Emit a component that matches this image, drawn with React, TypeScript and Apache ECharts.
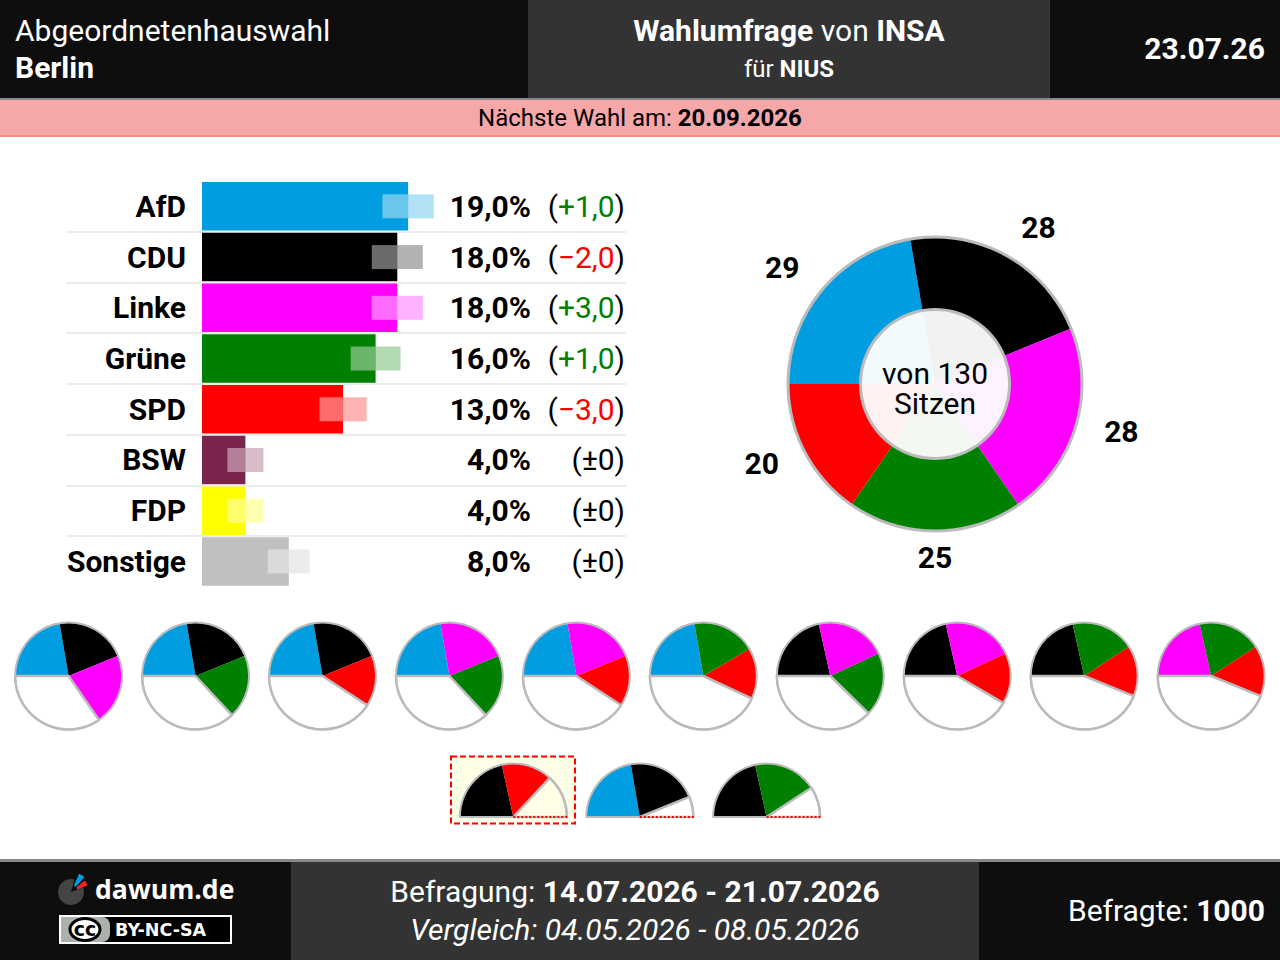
import React, { useEffect, useRef } from "react";
import * as echarts from "echarts";

const categories = ["AfD", "CDU", "Linke", "Grüne", "SPD", "BSW", "FDP", "Sonstige"];
const values = [19, 18, 18, 16, 13, 4, 4, 8];
const valueLabels = ["19,0%", "18,0%", "18,0%", "16,0%", "13,0%", "4,0%", "4,0%", "8,0%"];
const changeLabels = ["+1,0", "−2,0", "+3,0", "+1,0", "−3,0", "±0", "±0", "±0"];
const errorMargins = [2.37, 2.35, 2.35, 2.3, 2.17, 1.66, 1.66, 1.94];
const colors = ["#009ee0", "#000000", "#ff00ff", "#008000", "#ff0000", "#7b2450", "#ffff00", "#c0c0c0"];
const seatParties = ["AfD", "CDU", "Linke", "Grüne", "SPD"];
const seats = [29, 28, 28, 25, 20];
const fullCoalitions = [
  ["AfD", "CDU", "Linke"], ["AfD", "CDU", "Grüne"], ["AfD", "CDU", "SPD"], ["AfD", "Linke", "Grüne"],
  ["AfD", "Linke", "SPD"], ["AfD", "Grüne", "SPD"], ["CDU", "Linke", "Grüne"], ["CDU", "Linke", "SPD"],
  ["CDU", "Grüne", "SPD"], ["Linke", "Grüne", "SPD"],
];
const halfCoalitions = [["CDU", "SPD"], ["AfD", "CDU"], ["CDU", "Grüne"]];

const FONT = "Roboto";
const RING = "#bbbbbb";
const TOTAL_SEATS = 130;
const colorOf = (p: string) => colors[categories.indexOf(p)];
const seatsOf = (p: string) => seats[seatParties.indexOf(p)];
const tint = (hex: string) => {
  const n = parseInt(hex.slice(1), 16);
  return `rgba(${n >> 16},${(n >> 8) & 255},${n & 255},0.05)`;
};

const pieBase = {
  type: "pie", silent: true, clockwise: true, startAngle: 180, avoidLabelOverlap: false,
  label: { show: false }, labelLine: { show: false }, emphasis: { disabled: true },
};

function ring(center: number[], r0: number, r: number, half = false) {
  return { ...pieBase, center, radius: [r0, r], ...(half ? { endAngle: 0 } : {}), z: 6,
    data: [{ value: 1, itemStyle: { color: RING } }] };
}

function coalitionPie(parties: string[], center: number[], half: boolean, bg: string) {
  const sum = parties.reduce((a, p) => a + seatsOf(p), 0);
  // the half-circle keeps the full circle's scale: 130 seats = 360 degrees
  const whole = half ? TOTAL_SEATS / 2 : TOTAL_SEATS;
  return { ...pieBase, center, radius: [0, 53.5], ...(half ? { endAngle: 0 } : {}), z: 4,
    data: [
      ...parties.map((p) => ({ name: p, value: seatsOf(p), itemStyle: { color: colorOf(p) } })),
      { name: "rest", value: whole - sum, itemStyle: { color: bg, borderColor: RING, borderWidth: 2.5 } },
    ] };
}

const fullCenters = fullCoalitions.map((_, i) => [68.6 + 126.95 * i, 676]);
const halfCenters = [[513.3, 817], [639.8, 817], [766.6, 817]];

const seatLabelOffsets = [[-4, 9], [9, 13], [0, -8], [0, -21], [-1, -11]];

function text(x: number, y: number, t: string, size: number, extra: any = {}, rich?: any) {
  const { z, ...styleExtra } = extra;
  return { type: "text", z: z ?? 20, silent: true, style: {
    x, y, text: t, fontFamily: FONT, fontSize: size, fill: "#fff", align: "left", verticalAlign: "middle",
    ...styleExtra, ...(rich ? { rich } : {}) } };
}
function rect(x: number, y: number, w: number, h: number, fill: string, z = 1) {
  return { type: "rect", z, silent: true, shape: { x, y, width: w, height: h }, style: { fill } };
}
const boldRich = (size: number, fill: string) => ({ b: { fontFamily: FONT, fontSize: size, fontWeight: 700, fill } });

const D2R = Math.PI / 180;

function buildOption(): any {
  const g: any[] = [
    rect(0, 0, 1280, 98, "#0e0e0e"), rect(528, 0, 522, 98, "#333333"), rect(0, 98, 1280, 2, "#888888"),
    rect(0, 100, 1280, 35, "#f6a8a8"), rect(0, 135, 1280, 2, "#ff8a8a"),
    rect(0, 859, 1280, 3, "#888888"), rect(0, 862, 1280, 98, "#0e0e0e"), rect(291, 862, 688, 98, "#333333"),
    text(15, 30, "Abgeordnetenhauswahl", 30, { fontWeight: 400 }),
    text(15, 67, "Berlin", 30, { fontWeight: 700 }),
    text(789, 30, "{b|Wahlumfrage} von {b|INSA}", 30, { align: "center" }, boldRich(30, "#fff")),
    text(789, 69, "für {b|NIUS}", 24, { align: "center" }, boldRich(24, "#fff")),
    text(1265, 48, "23.07.26", 30, { align: "right", fontWeight: 700 }),
    text(640, 118, "Nächste Wahl am: {b|20.09.2026}", 24, { align: "center", fill: "#000" }, boldRich(24, "#000")),
    text(935, 388, "von 130\nSitzen", 30, { align: "center", fill: "#000", lineHeight: 30 }),
    { type: "rect", z: 1, silent: true, shape: { x: 451, y: 756.5, width: 124, height: 67 },
      style: { fill: "#ffffe8", stroke: "#ff0000", lineWidth: 2, lineDash: [6, 3] } },
    text(635, 891, "Befragung: {b|14.07.2026 - 21.07.2026}", 30, { align: "center" }, boldRich(30, "#fff")),
    text(635, 929, "Vergleich: 04.05.2026 - 08.05.2026", 30, { align: "center", fontStyle: "italic" }),
    text(1265, 910, "Befragte: {b|1000}", 30, { align: "right" }, boldRich(30, "#fff")),
    // logo
    { type: "sector", z: 5, silent: true, shape: { cx: 71, cy: 892, r0: 0, r: 13, startAngle: -20 * D2R, endAngle: 285 * D2R }, style: { fill: "#444444" } },
    { type: "sector", z: 5, silent: true, shape: { cx: 71, cy: 892, r0: 7, r: 20, startAngle: -66 * D2R, endAngle: -48 * D2R }, style: { fill: "#009ee0" } },
    { type: "sector", z: 5, silent: true, shape: { cx: 71, cy: 892, r0: 7, r: 18, startAngle: -40 * D2R, endAngle: -22 * D2R }, style: { fill: "#ff2020" } },
    text(95, 889, "dawum.de", 26.6, { fontFamily: "Open Sans", fontWeight: 700 }),
    // licence badge
    { type: "rect", z: 5, silent: true, shape: { x: 60, y: 916, width: 171, height: 27 }, style: { fill: "#000", stroke: "#fff", lineWidth: 2 } },
    { type: "rect", z: 6, silent: true, shape: { x: 61, y: 917, width: 49, height: 25, r: [0, 8, 8, 0] }, style: { fill: "#aab2ab" } },
    { type: "ellipse", z: 7, silent: true, shape: { cx: 85, cy: 929.5, rx: 15, ry: 11 }, style: { fill: "#fff", stroke: "#000", lineWidth: 3 } },
    text(85, 929, "cc", 19, { z: 8, align: "center", fontWeight: 700, fontFamily: "DejaVu Sans", fill: "#000" }),
    text(115, 930, "BY-NC-SA", 17.5, { fontWeight: 700, fontFamily: "DejaVu Sans" }),
  ];
  halfCenters.forEach(([cx, cy]) => {
    g.push({ type: "line", z: 8, silent: true, shape: { x1: cx - 54, y1: cy, x2: cx, y2: cy }, style: { stroke: RING, lineWidth: 2 } });
    g.push({ type: "line", z: 9, silent: true, shape: { x1: cx, y1: cy, x2: cx + 54, y2: cy }, style: { stroke: "#ff0000", lineWidth: 2, lineDash: [2, 2] } });
  });

  const bigCenter = [935, 384];
  const series: any[] = [
    { type: "bar", name: "Umfrage", barWidth: 48.5, z: 2, silent: true, data: values.map((v, i) => ({ value: v, itemStyle: { color: colors[i] } })) },
    { type: "custom", name: "Fehlerbereich", z: 3, silent: true,
      data: values.map((v, i) => [v, i, errorMargins[i]]),
      encode: { x: 0, y: 1 },
      renderItem: (_: any, api: any) => {
        const v = api.value(0), i = api.value(1), m = api.value(2);
        const l = api.coord([v - m, i]), c = api.coord([v, i]), r = api.coord([v + m, i]);
        const h = 24;
        return { type: "group", children: [
          { type: "rect", shape: { x: l[0], y: l[1] - h / 2, width: c[0] - l[0], height: h }, style: { fill: "rgba(255,255,255,0.42)" } },
          { type: "rect", shape: { x: c[0], y: c[1] - h / 2, width: r[0] - c[0], height: h }, style: { fill: colors[i], opacity: 0.3 } },
        ] };
      } },
    { ...pieBase, name: "Sitze", center: bigCenter, radius: [75, 147], z: 4,
      data: seatParties.map((p, i) => ({ name: p, value: seats[i], itemStyle: { color: colorOf(p) } })) },
    { ...pieBase, name: "Sitze innen", center: bigCenter, radius: [0, 75], z: 4,
      data: seatParties.map((p, i) => ({ name: p, value: seats[i], itemStyle: { color: tint(colorOf(p)) } })) },
    { ...pieBase, name: "Sitzzahlen", center: bigCenter, radius: [191, 192], z: 5,
      label: { show: true, position: "inside", color: "#000", fontFamily: FONT, fontSize: 30, fontWeight: 700, formatter: "{c}" },
      data: seatParties.map((p, i) => ({ name: p, value: seats[i], itemStyle: { color: "transparent" }, label: { offset: seatLabelOffsets[i] } })) },
    ring(bigCenter, 145.5, 148.5), ring(bigCenter, 73, 76),
  ];
  fullCoalitions.forEach((c, i) => {
    series.push(coalitionPie(c, fullCenters[i], false, "#ffffff"));
    series.push(ring(fullCenters[i], 52.5, 54.5));
  });
  halfCoalitions.forEach((c, i) => {
    series.push(coalitionPie(c, halfCenters[i], true, i === 0 ? "#ffffe8" : "#ffffff"));
    series.push(ring(halfCenters[i], 52.5, 54.5, true));
  });

  const pxPerUnit = 10.85;
  const min = -(202 - 66) / pxPerUnit;
  const max = (626 - 202) / pxPerUnit;
  const hiddenAxis = { type: "category", inverse: true, axisLine: { show: false }, axisTick: { show: false } };

  return {
    animation: false,
    backgroundColor: "#ffffff",
    textStyle: { fontFamily: FONT },
    grid: { left: 66, top: 181, width: 560, height: 405.8, containLabel: false },
    xAxis: { type: "value", min, max, show: false },
    yAxis: [
      { ...hiddenAxis, data: categories,
        splitLine: { show: true, showMinLine: false, showMaxLine: false, lineStyle: { color: "#e6e6e6", width: 1.5 } },
        axisLabel: { margin: -120, align: "right", color: "#000", fontFamily: FONT, fontSize: 30, fontWeight: 700 } },
      { ...hiddenAxis, position: "right", data: valueLabels,
        axisLabel: { margin: -95, align: "right", color: "#000", fontFamily: FONT, fontSize: 30, fontWeight: 700 } },
      { ...hiddenAxis, position: "right", data: changeLabels,
        axisLabel: { margin: -1, align: "right", color: "#000", fontFamily: FONT, fontSize: 30,
          formatter: (v: string) => {
            const style = v[0] === "+" ? "g" : v[0] === "−" ? "r" : "n";
            return `{n|(}{${style}|${v}}{n|)}`;
          },
          rich: {
            n: { color: "#000", fontFamily: FONT, fontSize: 30 },
            g: { color: "#008000", fontFamily: FONT, fontSize: 30 },
            r: { color: "#ff0000", fontFamily: FONT, fontSize: 30 },
          } } },
    ],
    graphic: { elements: g },
    series,
  };
}

export default function App() {
  const ref = useRef<HTMLDivElement>(null);
  useEffect(() => {
    const chart = echarts.init(ref.current!, undefined, { renderer: "svg", width: 1280, height: 960 });
    chart.setOption(buildOption());
    return () => chart.dispose();
  }, []);
  return <div ref={ref} style={{ position: "absolute", left: 0, top: 0, width: 1280, height: 960 }} />;
}
